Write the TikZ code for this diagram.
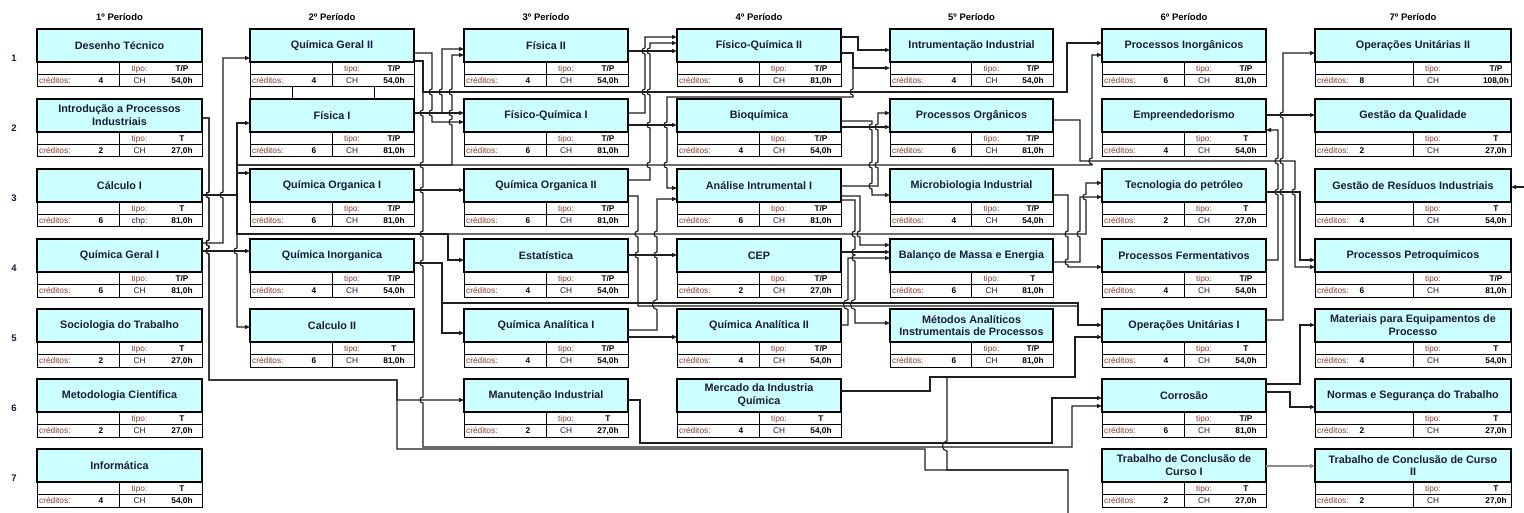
\documentclass[tikz,border=0pt]{standalone}
\usepackage{fontspec}
\setmainfont{Liberation Sans}
\usetikzlibrary{arrows.meta}
\definecolor{ttlfill}{HTML}{CCFFFF}
\definecolor{ttltext}{HTML}{1A1A3A}
\definecolor{labred}{HTML}{8A3A2A}
\definecolor{lnk}{HTML}{1E1E1E}
\definecolor{lnkgray}{HTML}{8C8C8C}
\tikzset{
  ttl/.style={draw=black, line width=1.1pt, fill=ttlfill, minimum height=33pt, inner sep=1pt, outer sep=0pt, align=center, text=ttltext, font=\bfseries\fontsize{10.8}{12.8}\selectfont},
  tbl/.style={draw=black, line width=1pt},
  lab/.style={inner sep=0pt, anchor=base, text=labred, font=\fontsize{8.3}{9}\selectfont},
  lab2/.style={inner sep=0pt, anchor=base, text=ttltext, font=\fontsize{8.3}{9}\selectfont},
  val/.style={inner sep=0pt, anchor=base, text=black, font=\bfseries\fontsize{8.3}{9}\selectfont},
  hdr/.style={font=\bfseries\fontsize{9.5}{10}\selectfont, inner sep=0pt},
  rown/.style={font=\bfseries\fontsize{9.5}{10}\selectfont, text=ttltext, inner sep=0pt},
  cn/.style={draw=lnk, line width=1.1pt, -{Triangle[length=5pt,width=4pt]}},
  cnp/.style={draw=lnk, line width=1.1pt},
  cng/.style={draw=lnkgray, line width=1.4pt, -{Triangle[length=5pt,width=4pt]}},
  hd/.style 2 args={insert path={-- (#1,#2-3) .. controls (#1-4,#2-3) and (#1-4,#2+3) .. (#1,#2+3)}},
  hu/.style 2 args={insert path={-- (#1,#2+3) .. controls (#1-4,#2+3) and (#1-4,#2-3) .. (#1,#2-3)}},
  hdd/.style 2 args={insert path={-- (#1,#2-5) .. controls (#1-6,#2-5) and (#1-6,#2+5) .. (#1,#2+5)}},
  huu/.style 2 args={insert path={-- (#1,#2+5) .. controls (#1-6,#2+5) and (#1-6,#2-5) .. (#1,#2-5)}},
}
\newcommand\subj[9]{%
  \pgfmathsetmacro\sR{#2+#4}%
  \pgfmathsetmacro\sD{#2+#4/2}%
  \pgfmathsetmacro\sCV{#2+(#4>180?47:64)}%
  \pgfmathsetmacro\sTV{#2+#4-(#4>180?15:20)}%
  \pgfmathsetmacro\sTL{#2+#4/2+20}%
  \node[ttl, minimum width=#4] (#1) at (\sD, #3+16.5) {#5};
  \draw[tbl] (#2,#3+33) rectangle (\sR,#3+58);
  \draw[tbl] (#2,#3+45.5) -- (\sR,#3+45.5);
  \draw[tbl] (\sD,#3+33) -- (\sD,#3+58);
  \node[lab, anchor=base west] (#1-cl) at (#2+2, #3+54.8) {créditos:};
  \node[val] (#1-cv) at (\sCV, #3+54.8) {#6};
  \node[lab] (#1-tl) at (\sTL, #3+42.3) {tipo:};
  \node[val] (#1-tv) at (\sTV, #3+42.3) {#7};
  \node[lab2] (#1-hl) at (\sTL, #3+54.8) {#8};
  \node[val] (#1-hv) at (\sTV, #3+54.8) {#9};
}
\begin{document}
\begin{tikzpicture}[x=1pt,y=-1pt]
\useasboundingbox (0,0) rectangle (1524,513);
\fill[white] (0,0) rectangle (1524,513);
% headers
\node[hdr] (h1) at (119.5,17) {1º Período};
\node[hdr] (h2) at (332,17) {2º Período};
\node[hdr] (h3) at (546,17) {3º Período};
\node[hdr] (h4) at (759,17) {4º Período};
\node[hdr] (h5) at (971.5,17) {5º Período};
\node[hdr] (h6) at (1184,17) {6º Período};
\node[hdr] (h7) at (1413,17) {7º Período};
% row numbers
\node[rown] (n1) at (14,58) {1};
\node[rown] (n2) at (14,128) {2};
\node[rown] (n3) at (14,198) {3};
\node[rown] (n4) at (14,268) {4};
\node[rown] (n5) at (14,338) {5};
\node[rown] (n6) at (14,408) {6};
\node[rown] (n7) at (14,478) {7};
% column 1
\subj{dt}{37}{29}{165}{Desenho Técnico}{4}{T/P}{CH}{54,0h}
\subj{ipi}{37}{99}{165}{Introdução a Processos\\Industriais}{2}{T}{CH}{27,0h}
\subj{calc1}{37}{169}{165}{Cálculo I}{6}{T}{chp:}{81,0h}
\subj{qg1}{37}{239}{165}{Química Geral I}{6}{T/P}{CH}{81,0h}
\subj{soc}{37}{309}{165}{Sociologia do Trabalho}{2}{T}{CH}{27,0h}
\subj{met}{37}{379}{165}{Metodologia Científica}{2}{T}{CH}{27,0h}
\subj{inf}{37}{449}{165}{Informática}{4}{T}{CH}{54,0h}
% column 2
\subj{qg2}{250}{29}{164}{Química Geral II}{4}{T/P}{CH}{54,0h}
\draw[tbl] (250,87) rectangle (414,99);
\draw[tbl] (292,87) -- (292,99);
\draw[tbl] (374,87) -- (374,99);
\subj{fis1}{250}{99}{164}{Física I}{6}{T/P}{CH}{81,0h}
\subj{qo1}{250}{169}{164}{Química Organica I}{6}{T/P}{CH}{81,0h}
\subj{qinorg}{250}{239}{164}{Química Inorganica}{4}{T/P}{CH}{54,0h}
\subj{calc2}{250}{309}{164}{Calculo II}{6}{T}{CH}{81,0h}
% column 3
\subj{fis2}{464}{29}{164}{Física II}{4}{T/P}{CH}{54,0h}
\subj{fq1}{464}{99}{164}{Físico-Química I}{6}{T/P}{CH}{81,0h}
\subj{qo2}{464}{169}{164}{Química Organica II}{6}{T/P}{CH}{81,0h}
\subj{est}{464}{239}{164}{Estatística}{4}{T/P}{CH}{54,0h}
\subj{qa1}{464}{309}{164}{Química Analítica I}{4}{T/P}{CH}{54,0h}
\subj{manut}{464}{379}{164}{Manutenção Industrial}{2}{T}{CH}{27,0h}
% column 4
\subj{fq2}{677}{29}{164}{Físico-Química II}{6}{T/P}{CH}{81,0h}
\subj{bioq}{677}{99}{164}{Bioquímica}{4}{T/P}{CH}{54,0h}
\subj{ai1}{677}{169}{164}{Análise Intrumental I}{6}{T/P}{CH}{81,0h}
\subj{cep}{677}{239}{164}{CEP}{2}{T/P}{CH}{27,0h}
\subj{qa2}{677}{309}{164}{Química Analítica II}{4}{T/P}{CH}{54,0h}
\subj{merc}{677}{379}{164}{Mercado da Industria\\Química}{4}{T}{CH}{54,0h}
% column 5
\subj{instr}{890}{29}{163}{Intrumentação Industrial}{4}{T/P}{CH}{54,0h}
\subj{porg}{890}{99}{163}{Processos Orgânicos}{6}{T/P}{CH}{81,0h}
\subj{micro}{890}{169}{163}{Microbiologia Industrial}{4}{T/P}{CH}{54,0h}
\subj{bal}{890}{239}{163}{Balanço de Massa e Energia}{6}{T}{CH}{81,0h}
\subj{metod}{890}{309}{163}{Métodos Analíticos\\Instrumentais de Processos}{6}{T/P}{CH}{81,0h}
% column 6
\subj{pinorg}{1102}{29}{164}{Processos Inorgânicos}{6}{T/P}{CH}{81,0h}
\subj{empr}{1102}{99}{164}{Empreendedorismo}{4}{T}{CH}{54,0h}
\subj{tecpet}{1102}{169}{164}{Tecnologia do petróleo}{2}{T}{CH}{27,0h}
\subj{pferm}{1102}{239}{164}{Processos Fermentativos}{4}{T/P}{CH}{54,0h}
\subj{ou1}{1102}{309}{164}{Operações Unitárias I}{4}{T}{CH}{54,0h}
\subj{corr}{1102}{379}{164}{Corrosão}{6}{T/P}{CH}{81,0h}
\subj{tcc1}{1102}{449}{164}{Trabalho de Conclusão de\\Curso I}{2}{T}{CH}{27,0h}
% column 7
\subj{ou2}{1315}{29}{196}{Operações Unitárias II}{8}{T/P}{CH}{108,0h}
\subj{gq}{1315}{99}{196}{Gestão da Qualidade}{2}{T}{CH}{27,0h}
\subj{gri}{1315}{169}{196}{Gestão de Resíduos Industriais}{4}{T}{CH}{54,0h}
\subj{ppetro}{1315}{239}{196}{Processos Petroquímicos}{6}{T/P}{CH}{81,0h}
\subj{mat}{1315}{309}{196}{Materiais para Equipamentos de\\Processo}{4}{T}{CH}{54,0h}
\subj{nst}{1315}{379}{196}{Normas e Segurança do Trabalho}{2}{T}{CH}{27,0h}
\subj{tcc2}{1315}{449}{196}{Trabalho de Conclusão de Curso\\II}{2}{T}{CH}{27,0h}
% ---------- connectors ----------
\coordinate (exitS) at (1068,513);
\coordinate (j1) at (1068,470);
\coordinate (j2) at (1078,306);
\coordinate (eastin) at (1524,187);
% gap 1-2
\draw[cn] (ipi.east |- 0,118) -- (209,118) [hd={209}{195}] [hd={209}{243}] [hd={209}{251}] -- (209,380) -- (397,380) -- (397,400) -- (manut.west |- 0,400);
\draw[cnp] (ipi.east |- 0,118) -- (209,118) [hd={209}{195}] [hd={209}{243}] [hd={209}{251}] -- (209,380) -- (397,380) -- (397,449) -- (925,449) -- (925,470) -- (1068,470) -- (exitS);
\draw[cn] (qg1.east |- 0,243) -- (223,243) [hu={223}{195}] -- (223,58) -- (qg2.west |- 0,58);
\draw[cn] (calc1.east |- 0,195) -- (237,195) -- (237,123) -- (fis1.west |- 0,123);
\draw[cn] (calc1.east |- 0,195) -- (237,195) -- (237,173) -- (qo1.west |- 0,173);
\draw[cn] (calc1.east |- 0,195) -- (237,195) [hd={237}{251}] -- (237,327) -- (calc2.west |- 0,327);
\draw[cn] (qg1.east |- 0,251) -- (qinorg.west |- 0,251);
\draw[cn] (calc1.east |- 0,195) -- (237,195) -- (237,165) -- (1092,165) [hu={1092}{161}] -- (1092,55) -- (pinorg.west |- 0,55);
\draw[cn] (calc1.east |- 0,195) -- (237,195) -- (237,165) -- (452,165) [hu={452}{122}] [hu={452}{113}] [hu={452}{92}] -- (452,55) -- (fis2.west |- 0,55);
\draw[cn] (calc1.east |- 0,195) -- (237,195) -- (237,234) -- (448,234) -- (448,260) -- (est.west |- 0,260);
\draw[cn] (calc1.east |- 0,195) -- (237,195) -- (237,234) -- (1086,234) [hu={1086}{197}] -- (1086,183) -- (tecpet.west |- 0,183);
% gap 2-3
\draw[cn] (qg2.east |- 0,53) -- (432,53) [hd={432}{92}] [hd={432}{113}] -- (432,122) -- (fq1.west |- 0,122);
\draw[cn] (qg2.east |- 0,61) -- (423,61) -- (423,92) -- (1067,92) -- (1067,43) -- (pinorg.west |- 0,43);
\draw[cn] (qg2.east |- 0,61) -- (423,61) [hd={423}{113}] [hd={423}{165}] [hd={423}{190}] [hd={423}{234}] [hd={423}{263}] [hd={423}{400}] -- (423,447) -- (1072,447) -- (1072,406) -- (corr.west |- 0,406);
\draw[cn] (fis1.east |- 0,113) -- (fq1.west |- 0,113);
\draw[cn] (fis1.east |- 0,113) -- (442,113) [hu={442}{92}] -- (442,49) -- (fis2.west |- 0,49);
\draw[cn] (qo1.east |- 0,190) -- (qo2.west |- 0,190);
\draw[cn] (qinorg.east |- 0,263) -- (442,263) -- (442,333) -- (qa1.west |- 0,333);
\draw[cn] (qinorg.east |- 0,263) -- (442,263) -- (442,303) -- (1078,303) -- (1078,325) -- (ou1.west |- 0,325);
\draw[cnp] (qo2.east |- 0,196) -- (638,196) [hd={638}{234}] [hd={638}{255}] -- (638,306) -- (j2);
% gap 3-4
\draw[cn] (fq1.east |- 0,113) -- (645,113) [hu={645}{92}] [hu={645}{51}] -- (645,37) -- (fq2.west |- 0,37);
\draw[cn] (qo2.east |- 0,180) -- (650,180) [hu={650}{165}] [hu={650}{125}] [hu={650}{92}] [hu={650}{51}] -- (650,43) -- (fq2.west |- 0,43);
\draw[cn] (fis2.east |- 0,51) -- (fq2.west |- 0,51);
\draw[cn] (fq1.east |- 0,125) -- (bioq.west |- 0,125);
\draw[cn] (fq2.east |- 0,53) -- (853,53) [hd={853}{92}] -- (853,97) -- (667,97) [hd={667}{125}] [hd={667}{165}] -- (667,188) -- (ai1.west |- 0,188);
\draw[cn] (qa1.east |- 0,330) -- (657,330) [huu={657}{304.5}] [hu={657}{255}] [hu={657}{234}] -- (657,199) -- (ai1.west |- 0,199);
\draw[cn] (qa1.east |- 0,337) -- (qa2.west |- 0,337);
\draw[cn] (est.east |- 0,255) -- (cep.west |- 0,255);
\draw[cn] (manut.east |- 0,400) -- (640,400) -- (640,443) -- (1052,443) -- (1052,398) -- (corr.west |- 0,398);
% gap 4-5
\draw[cn] (fq2.east |- 0,37) -- (858,37) -- (858,50) -- (instr.west |- 0,50);
\draw[cn] (fq2.east |- 0,53) -- (853,53) -- (853,68) -- (instr.west |- 0,68);
\draw[cn] (ai1.east |- 0,186) -- (878,186) [hu={878}{165}] [hu={878}{127}] -- (878,113) -- (porg.west |- 0,113);
\draw[cn] (bioq.east |- 0,127) -- (porg.west |- 0,127);
\draw[cn] (bioq.east |- 0,121) -- (872,121) [hd={872}{127}] [hd={872}{165}] [hd={872}{186}] -- (872,195) -- (micro.west |- 0,195);
\draw[cn] (ai1.east |- 0,196) -- (860,196) [hd={860}{234}] -- (860,245) -- (bal.west |- 0,245);
\draw[cn] (cep.east |- 0,252) -- (bal.west |- 0,252);
\draw[cn] (qa2.east |- 0,325) -- (848,325) [huu={848}{304.5}] -- (848,258) -- (bal.west |- 0,258);
\draw[cn] (ai1.east |- 0,200) -- (855,200) [hd={855}{234}] [hd={855}{252}] [hd={855}{258}] [hdd={855}{304.5}] -- (855,323) -- (metod.west |- 0,323);
% gap 5-6
\draw[cn] (porg.east |- 0,120) -- (1080,120) -- (1080,161) -- (1295,161) [hd={1295}{192}] -- (1295,267) -- (ppetro.west |- 0,267);
\draw[cn] (micro.east |- 0,195) -- (1068,195) [hd={1068}{234}] [hd={1068}{262}] -- (1068,267) -- (pferm.west |- 0,267);
\draw[cn] (bal.east |- 0,262) -- (1080,262) [hu={1080}{234}] -- (1080,197) -- (tecpet.west |- 0,197);
\draw[cn] (merc.east |- 0,391) -- (930,391) -- (930,377) -- (1075,377) -- (1075,337) -- (ou1.west |- 0,337);
\draw[cnp] (merc.east |- 0,391) -- (930,391) -- (930,377) -- (947,377) [hdd={947}{446}] -- (947,470) -- (j1);
% gap 6-7
\draw[cn] (tecpet.east |- 0,192) -- (1300,192) -- (1300,260) -- (ppetro.west |- 0,260);
\draw[cn] (empr.east |- 0,115) -- (gq.west |- 0,115);
\draw[cn] (ou1.east |- 0,320) -- (1283,320) [hu={1283}{192}] [hu={1283}{161}] [hu={1283}{115}] -- (1283,53) -- (ou2.west |- 0,53);
\draw[cn] (pferm.east |- 0,260) -- (1278,260) [hu={1278}{192}] [hu={1278}{161}] -- (1278,130) -- (empr.east |- 0,130);
\draw[cn] (corr.east |- 0,384) -- (1300,384) -- (1300,325) -- (mat.west |- 0,325);
\draw[cn] (corr.east |- 0,392) -- (1290,392) -- (1290,407) -- (nst.west |- 0,407);
\draw[cng] (tcc1.east |- 0,466) -- (tcc2.west |- 0,466);
\draw[cn] (eastin) -- (gri.east |- 0,187);
\end{tikzpicture}
\end{document}
